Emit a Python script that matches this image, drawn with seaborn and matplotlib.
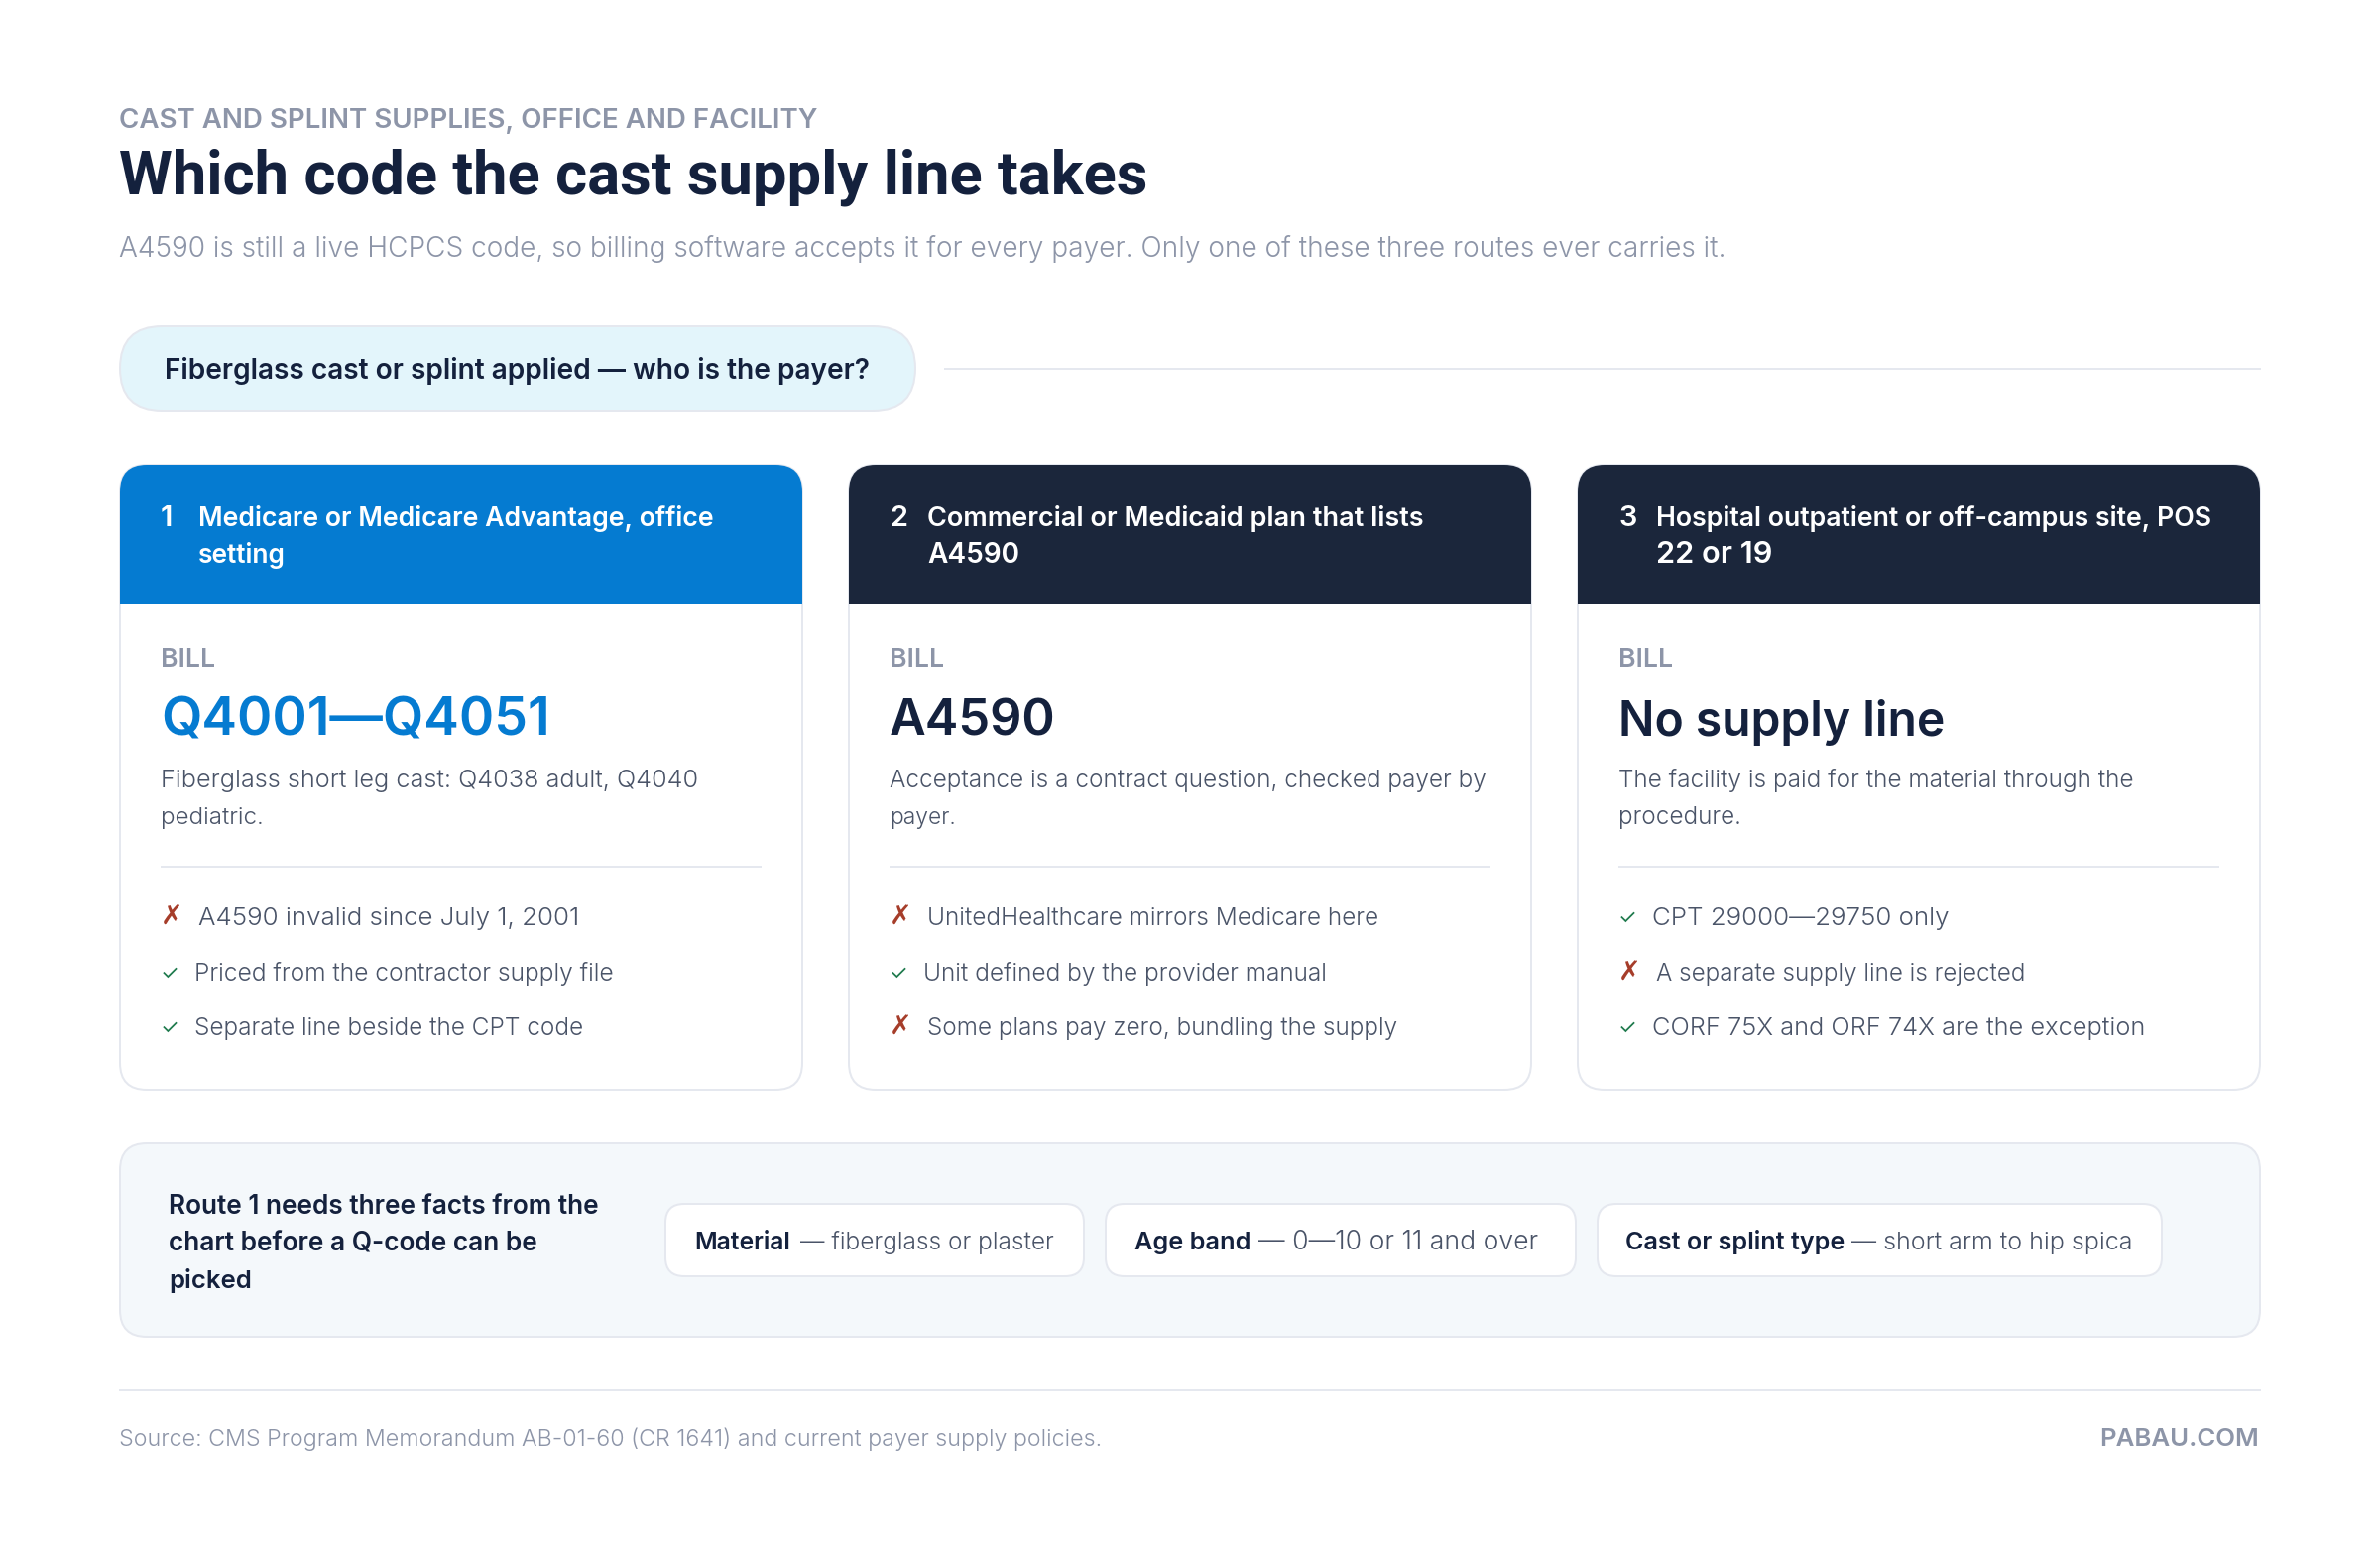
import matplotlib
matplotlib.use("Agg")
import matplotlib.pyplot as plt
from matplotlib.patches import FancyBboxPatch, Rectangle
import numpy as np
import seaborn as sns

sns.set_theme(style="white")
FONT = ["Inter", "DejaVu Sans"]
TITLE_FONT = ["Roboto", "DejaVu Sans"]
ICON_FONT = ["DejaVu Sans"]
plt.rcParams["font.family"] = FONT

# ---- content ----
eyebrow = "CAST AND SPLINT SUPPLIES, OFFICE AND FACILITY"
title = "Which code the cast supply line takes"
subtitle = "A4590 is still a live HCPCS code, so billing software accepts it for every payer. Only one of these three routes ever carries it."
question = "Fiberglass cast or splint applied — who is the payer?"
numbers = ["1", "2", "3"]
headers = [
    ["Medicare or Medicare Advantage, office", "setting"],
    ["Commercial or Medicaid plan that lists", "A4590"],
    ["Hospital outpatient or off-campus site, POS", "22 or 19"],
]
bill_label = "BILL"
codes = ["Q4001—Q4051", "A4590", "No supply line"]
descriptions = [
    ["Fiberglass short leg cast: Q4038 adult, Q4040", "pediatric."],
    ["Acceptance is a contract question, checked payer by", "payer."],
    ["The facility is paid for the material through the", "procedure."],
]
items = [
    ["A4590 invalid since July 1, 2001", "Priced from the contractor supply file", "Separate line beside the CPT code"],
    ["UnitedHealthcare mirrors Medicare here", "Unit defined by the provider manual", "Some plans pay zero, bundling the supply"],
    ["CPT 29000—29750 only", "A separate supply line is rejected", "CORF 75X and ORF 74X are the exception"],
]
item_ok = [[False, True, True], [False, True, False], [True, False, True]]
route_note = ["Route 1 needs three facts from the", "chart before a Q-code can be", "picked"]
chip_bold = ["Material", "Age band", "Cast or splint type"]
chip_rest = ["— fiberglass or plaster", "— 0—10 or 11 and over", "— short arm to hip spica"]
source = "Source: CMS Program Memorandum AB-01-60 (CR 1641) and current payer supply policies."
brand = "PABAU.COM"

# ---- colours ----
BLUE = "#057BD1"
NAVY = "#1B263B"
INK = "#14213D"
GREY = "#8D95A8"
BODY = "#4A5468"
LINE = "#E5E8EF"
GREEN = "#1F7A4D"
RED = "#A63D2A"

fig = plt.figure(figsize=(24, 15.58), dpi=100, facecolor="white")
ax = fig.add_axes([0, 0, 1, 1])
ax.set_xlim(0, 2400)
ax.set_ylim(1558, 0)
ax.axis("off")
PX = 0.72  # pt per pixel at dpi 100


def T(x, y, s, px, color, width=None, weight="normal", ha="left", family=FONT, **kw):
    t = ax.text(x, y, s, fontsize=px * PX, color=color, weight=weight, ha=ha, va="baseline",
                family=family, zorder=5, **kw)
    if width is not None:
        r = fig.canvas.get_renderer()
        w = t.get_window_extent(r).width
        t.set_fontsize(px * PX * width / w)
    return t


def harmonise(texts, tol=0.06):
    sizes = [t.get_fontsize() for t in texts]
    mid = float(np.median(sizes))
    for t, s in zip(texts, sizes):
        t.set_fontsize(min(max(s, mid * (1 - tol)), mid * (1 + tol)))


def box(x0, y0, x1, y1, rad, fc, ec=LINE, lw=2, z=1):
    p = FancyBboxPatch((x0, y0), x1 - x0, y1 - y0, boxstyle=f"round,pad=0,rounding_size={rad}",
                       fc=fc, ec=ec, lw=lw * PX, zorder=z)
    ax.add_patch(p)
    return p


def hline(x0, x1, y, color=LINE, lw=2):
    ax.plot([x0, x1], [y, y], color=color, lw=lw * PX, solid_capstyle="butt", zorder=2)


T(120, 128.5, eyebrow, 23.5, GREY, width=706, weight=600)
T(120, 195, title, 64, INK, width=1039, weight=600, family=TITLE_FONT)
T(120, 258.5, subtitle, 31, GREY, width=1623, weight=300)

box(121, 329, 923, 414, 42.5, "#E3F5FB")
T(166, 382, question, 29, INK, width=712, weight=600)
hline(952, 2280, 372)

card_x = [120, 855, 1590]
card_w = 690
top, head_bot, bottom = 469, 609, 1099
item_texts = []
desc_texts = []
for i, cx in enumerate(card_x):
    box(cx + 1, top, cx + card_w - 1, bottom, 27, "white")
    h = box(cx + 1, top, cx + card_w - 1, bottom, 27, BLUE if i == 0 else NAVY, ec="none", lw=0, z=2)
    clip = Rectangle((cx - 2, top - 2), card_w + 4, head_bot - top + 2, transform=ax.transData)
    h.set_clip_path(clip)
    T(cx + 42, 530, numbers[i], 29, "white", weight=600)
    T(cx + 80, 530, headers[i][0], 28, "white", weight=600,
      width=[520, 500, 560][i])
    T(cx + 80, 568, headers[i][1], 28, "white", weight=600,
      width=[88, 93, 117][i])
    T(cx + 42, 672.5, bill_label, 22, GREY, width=55, weight=600)
    T(cx + 42, 741.5, codes[i], 54, BLUE if i == 0 else INK, width=[393, 168, 329][i], weight=600)
    desc_texts.append(T(cx + 42, 794, descriptions[i][0], 28, BODY, width=[542, 602, 522][i], weight=300))
    desc_texts.append(T(cx + 42, 830.5, descriptions[i][1], 28, BODY, width=[104, 67, 124][i], weight=300))
    hline(cx + 42, cx + 648, 874)
    for j, y in enumerate([932.5, 988.5, 1044]):
        ok = item_ok[i][j]
        if ok:
            T(cx + 42, y - 1, "✓", 21, GREEN, family=FONT)
        else:
            T(cx + 42, y, "✗", 27, RED, weight="bold", family=ICON_FONT)
        widths = [[389, 423, 393], [456, 408, 474], [308, 372, 497]]
        item_texts.append(T(cx + (76 if ok else 80), y, items[i][j], 27, BODY, width=widths[i][j], weight=300))
harmonise(item_texts)
harmonise(desc_texts)

box(121, 1153, 2279, 1348, 27, "#F4F8FB")
for y, s, w in zip([1223.5, 1261.5, 1299.5], route_note, [433, 372, 84]):
    T(170, y, s, 28, INK, width=w, weight=600)

chip_x = [(671, 1093), (1115, 1589), (1611, 2180)]
bold_w = [(700, 797), (1144, 1261), (1639, 1860)]
rest_w = [(807, 1063), (1269, 1560), (1867, 2151)]
chip_texts = []
for (x0, x1), b, r, sb, sr in zip(chip_x, bold_w, rest_w, chip_bold, chip_rest):
    box(x0, 1214, x1, 1287, 19, "white")
    T(b[0], 1260, sb, 27, INK, width=b[1] - b[0], weight=600)
    chip_texts.append(T(r[0], 1260, sr, 27, BODY, width=r[1] - r[0], weight=300))
harmonise(chip_texts)

hline(120, 2280, 1402)
T(120, 1458, source, 25, GREY, width=990, weight=300)
T(2278, 1458, brand, 23.5, GREY, ha="right", width=161, weight=600)

sns.despine(ax=ax, left=True, bottom=True)
fig.savefig("out.png", dpi=100, facecolor="white")
